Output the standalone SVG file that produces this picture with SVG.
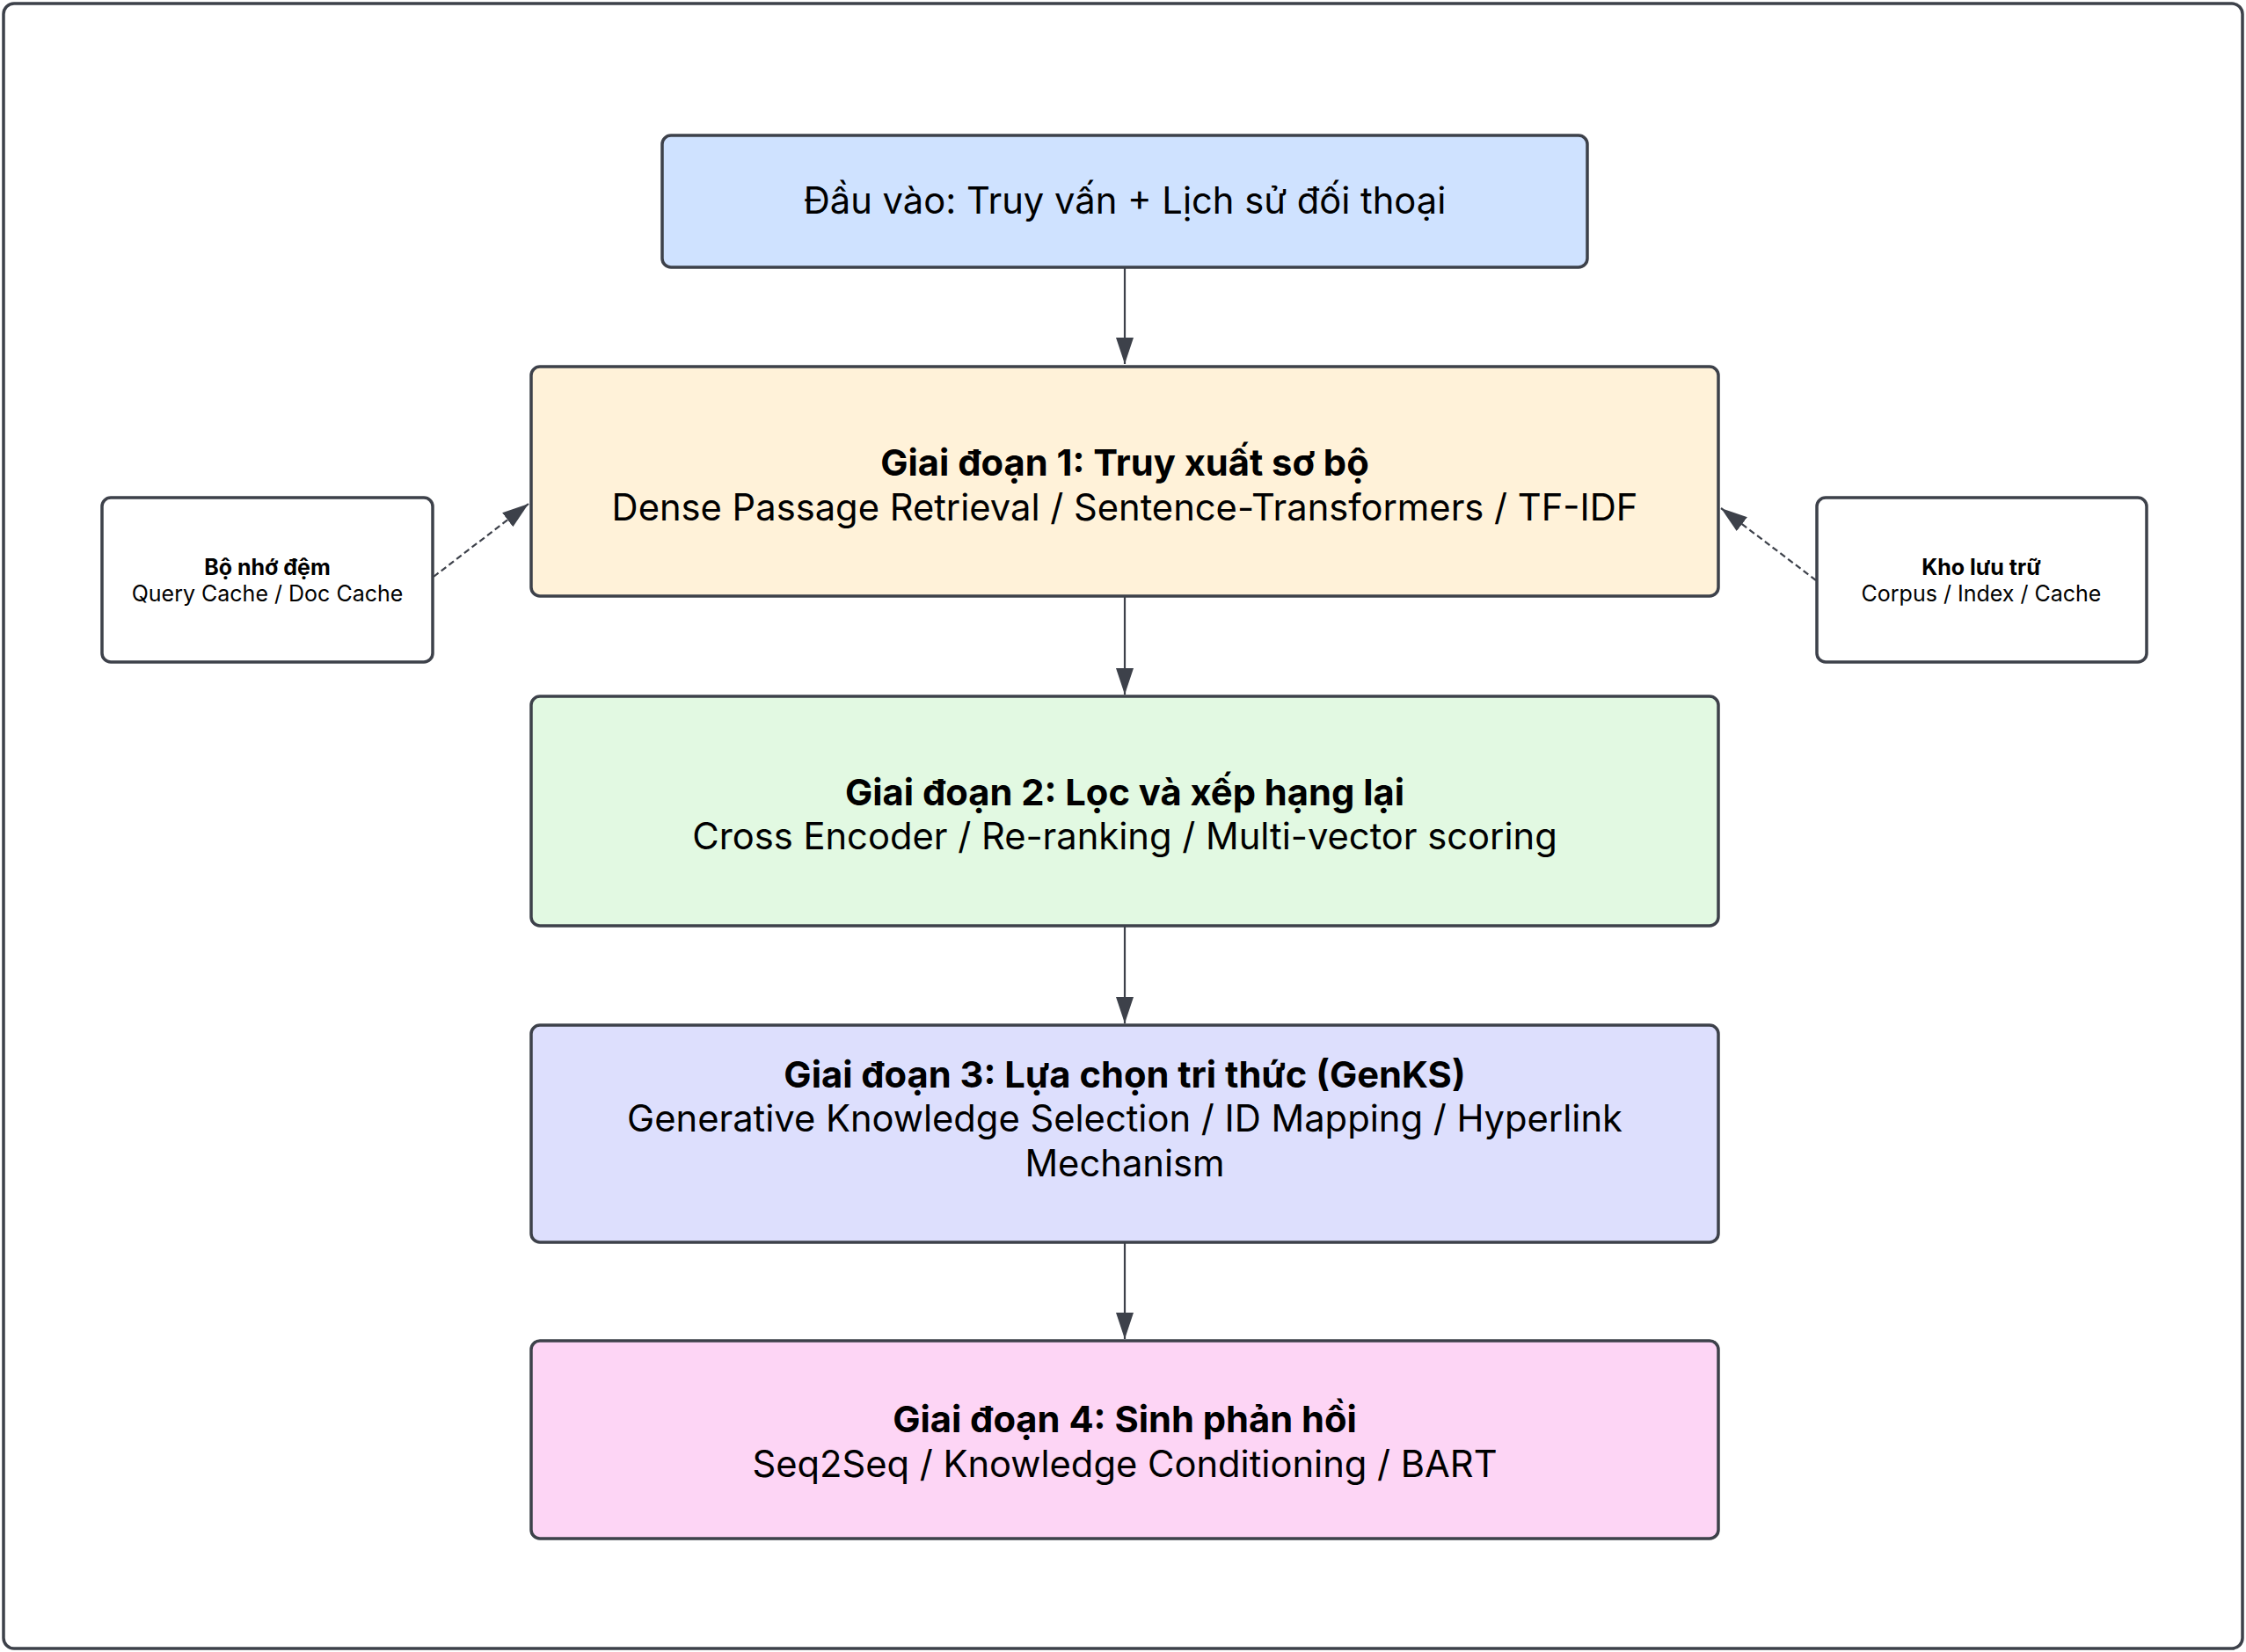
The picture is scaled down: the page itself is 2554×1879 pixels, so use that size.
<svg xmlns="http://www.w3.org/2000/svg" width="2554" height="1879" viewBox="0 0 2554 1879">
<style>
.box{stroke:#3d414a;stroke-width:3.5}
.t{font-family:Inter,"Noto Sans","DejaVu Sans",sans-serif;fill:#000;text-anchor:middle}
.big{font-size:41.7px}
.small{font-size:25px}
.b{font-weight:700}
.edge{stroke:#3d414a;stroke-width:2.2;fill:none}
.dash{stroke-dasharray:7 4}
</style>
<defs>
<marker id="ah" markerUnits="userSpaceOnUse" markerWidth="32" markerHeight="22" refX="30" refY="10" orient="auto">
<path d="M0,0 L30,10 L0,20 Z" fill="#3d414a"/>
</marker>
</defs>
<rect x="4" y="4" width="2546" height="1871" rx="12" fill="#ffffff" stroke="#3d414a" stroke-width="3.5"/>
<g id="edges">
<line class="edge" x1="1279" y1="304" x2="1279" y2="414" marker-end="url(#ah)"/>
<line class="edge" x1="1279" y1="678" x2="1279" y2="790" marker-end="url(#ah)"/>
<line class="edge" x1="1279" y1="1053" x2="1279" y2="1164" marker-end="url(#ah)"/>
<line class="edge" x1="1279" y1="1413" x2="1279" y2="1523" marker-end="url(#ah)"/>
<line class="edge dash" x1="493" y1="656" x2="601" y2="573" marker-end="url(#ah)"/>
<line class="edge dash" x1="2065" y1="660" x2="1957" y2="578" marker-end="url(#ah)"/>
</g>
<g id="input">
<rect class="box" x="753" y="154" width="1052" height="150" rx="10" fill="#cfe2ff"/>
<text class="t big" x="1279" y="243">Đầu vào: Truy vấn + Lịch sử đối thoại</text>
</g>
<g id="stage1">
<rect class="box" x="604" y="417" width="1350" height="261" rx="10" fill="#fff2d9"/>
<text class="t big b" x="1279" y="541">Giai đoạn 1: Truy xuất sơ bộ</text>
<text class="t big" x="1279" y="592">Dense Passage Retrieval / Sentence-Transformers / TF-IDF</text>
</g>
<g id="stage2">
<rect class="box" x="604" y="792" width="1350" height="261" rx="10" fill="#e2f9e2"/>
<text class="t big b" x="1279" y="916">Giai đoạn 2: Lọc và xếp hạng lại</text>
<text class="t big" x="1279" y="966">Cross Encoder / Re-ranking / Multi-vector scoring</text>
</g>
<g id="stage3">
<rect class="box" x="604" y="1166" width="1350" height="247" rx="10" fill="#dddffd"/>
<text class="t big b" x="1279" y="1237">Giai đoạn 3: Lựa chọn tri thức (GenKS)</text>
<text class="t big" x="1279" y="1287">Generative Knowledge Selection / ID Mapping / Hyperlink</text>
<text class="t big" x="1279" y="1338">Mechanism</text>
</g>
<g id="stage4">
<rect class="box" x="604" y="1525" width="1350" height="225" rx="10" fill="#fdd5f5"/>
<text class="t big b" x="1279" y="1629">Giai đoạn 4: Sinh phản hồi</text>
<text class="t big" x="1279" y="1680">Seq2Seq / Knowledge Conditioning / BART</text>
</g>
<g id="cache">
<rect class="box" x="116" y="566" width="376" height="187" rx="10" fill="#ffffff"/>
<text class="t small b" x="304" y="654">Bộ nhớ đệm</text>
<text class="t small" x="304" y="684">Query Cache / Doc Cache</text>
</g>
<g id="storage">
<rect class="box" x="2066" y="566" width="375" height="187" rx="10" fill="#ffffff"/>
<text class="t small b" x="2253" y="654">Kho lưu trữ</text>
<text class="t small" x="2253" y="684">Corpus / Index / Cache</text>
</g>
</svg>
